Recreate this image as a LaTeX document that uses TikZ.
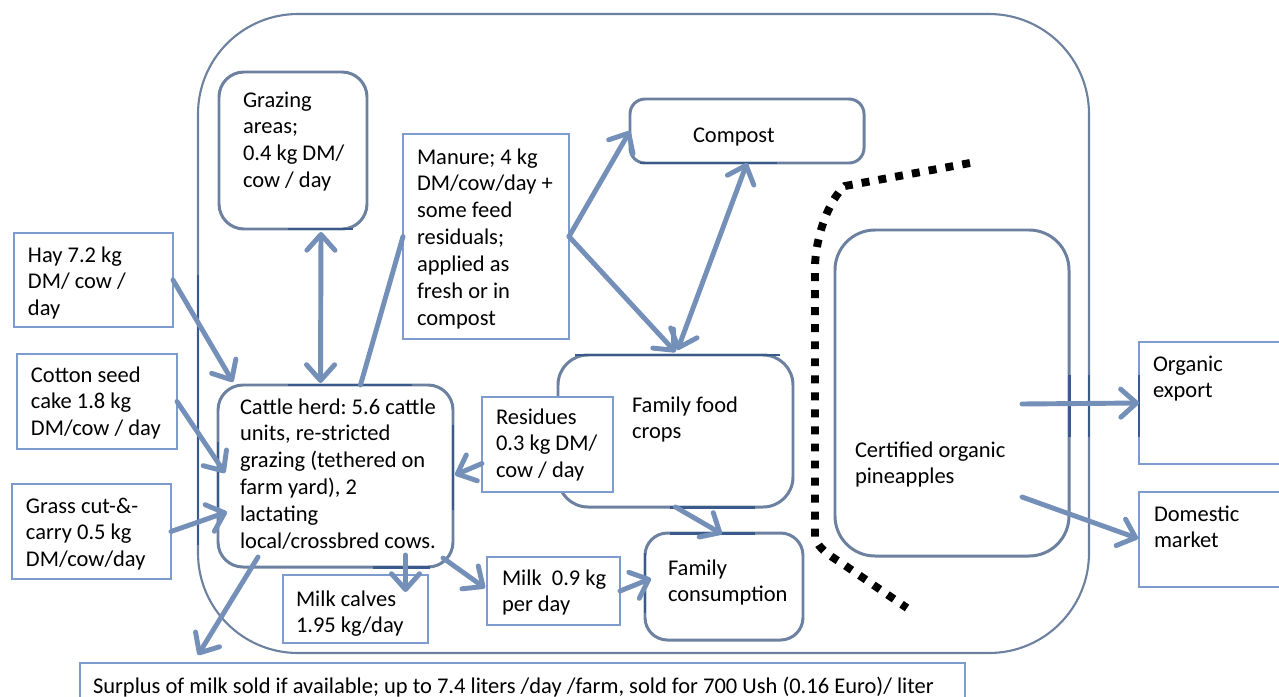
\documentclass[tikz,border=0pt]{standalone}
\usepackage{fontspec}
\setmainfont{Carlito}
\frenchspacing
\usetikzlibrary{arrows.meta,calc,fit}
\definecolor{boxline}{RGB}{108,128,160}
\definecolor{segdark}{RGB}{58,90,140}
\definecolor{arrowblue}{RGB}{116,143,184}
\definecolor{thinline}{RGB}{125,155,205}
\newcommand\tb[1]{\begin{tabular}[t]{@{}l@{}}#1\end{tabular}}
\begin{document}
\begin{tikzpicture}[x=0.02cm,y=-0.02cm,
  every node/.style={inner sep=0pt, outer sep=0pt},
  rbox/.style={draw=boxline, line width=1.7pt, fill=white, rounded corners=#1},
  rbox/.default=0.5cm,
  tbox/.style={draw=thinline, line width=0.8pt, fill=white},
  txt/.style={anchor=base west, font=\fontsize{12.8}{15.3}\selectfont\frenchspacing, text=black},
  tipbarb/.tip={Straight Barb[length=9pt,width=16pt,round]},
  conn/.style={draw=arrowblue, line width=2.8pt, line cap=round},
  arr/.style={conn, -tipbarb},
  darr/.style={conn, tipbarb-tipbarb},
  seg/.style={draw=segdark, line width=1.7pt},
  dotline/.style={draw=black, line width=4.5pt, dash pattern=on 4.5pt off 5.2pt}
]
\useasboundingbox (0,0) rectangle (1279,697);
\clip (0,0) rectangle (1279,697);

% farm boundary
\node[draw=boxline, line width=1.2pt, rounded corners=2cm, fit={(198,14)(1089,653)}] (farm) {};

% feed inputs
\node[tbox, fit={(14,233)(173,327)}] (hay) {};
\node[tbox, fit={(17,354)(177,449)}] (cotton) {};
\node[tbox, fit={(12,484)(171,579)}] (grass) {};

% units on the farm
\node[rbox, fit={(219,72)(367,229)}] (graz) {};
\node[rbox, fit={(218,385)(453,567)}] (cattle) {};
\node[tbox, fit={(403,134)(569,339)}] (manure) {};
\node[rbox=0.3cm, fit={(630,99)(864,163)}] (compost) {};
\node[rbox=0.6cm, fit={(558,355)(793,507)}] (food) {};
\node[tbox, fit={(482,397)(613,492)}] (res) {};
\node[rbox=0.45cm, fit={(645,533)(803,640)}] (fam) {};
\node[tbox, fit={(487,557)(620,625)}] (milk) {};
\node[tbox, fit={(283,575)(428,643)}] (calves) {};
\node[rbox=0.8cm, fit={(835,230)(1069,556)}] (pine) {};

% outlets
\node[tbox, fit={(80,663)(965,710)}] (surplus) {};
\node[tbox, fit={(1139,342)(1300,464)}] (export) {};
\node[tbox, fit={(1139,492)(1300,587)}] (dom) {};

% darker stretches of the outlines
\draw[seg] (288,229) -- (353,229);
\draw[seg] (288,385) -- (412,385);
\draw[seg] (218,442) -- (218,507);
\draw[seg] (453,425) -- (453,510);
\draw[seg] (373,567) -- (430,567);
\draw[seg] (640,163) -- (777,163);
\draw[seg] (575,355) -- (780,355);
\draw[seg] (670,507) -- (755,507);
\draw[seg] (670,533) -- (755,533);
\draw[seg] (645,553) -- (645,613);
\draw[seg] (1069,375) -- (1069,437);
\draw[seg, line width=1.4pt] (1089,375) -- (1089,437);
\draw[seg, line width=1.4pt] (198,275) -- (198,545);
\draw[seg, line width=1pt] (1139,375) -- (1139,437);

% certification boundary
\draw[dotline] (970,163) -- (845,186) .. controls (828,200) and (815,240) .. (815,268)
  -- (815,538) .. controls (818,548) and (830,556) .. (840,562) -- (907,608);

% texts
\node[txt] (grazt) at (243,107) {\tb{Grazing\\areas;\\0.4 kg DM/\\cow / day}};
\node[txt] (hayt) at (28,262) {\tb{Hay 7.2 kg\\DM/ cow /\\day}};
\node[txt] (cottont) at (31,382) {\tb{Cotton seed\\cake 1.8 kg\\DM/cow / day}};
\node[txt] (grasst) at (26,513) {\tb{Grass cut-\&-\\carry 0.5 kg\\DM/cow/day}};
\node[txt] (cattlet) at (240,414) {\tb{Cattle herd: 5.6 cattle\\units, re-stricted\\grazing (tethered on\\farm yard), 2\\lactating\\local/crossbred cows.}};
\node[txt] (manuret) at (417,164) {\tb{Manure; 4 kg\\DM/cow/day +\\some feed\\residuals;\\applied as\\fresh or in\\compost}};
\node[txt] (compostt) at (693,142) {Compost};
\node[txt] (foodt) at (632,412) {\tb{Family food\\crops}};
\node[txt] (rest) at (496,424) {\tb{Residues\\0.3 kg DM/\\cow / day}};
\node[txt] (milkt) at (502,585) {\tb{Milk\ \ 0.9 kg\\per day}};
\node[txt] (famt) at (668,575) {\tb{Family\\consumption}};
\node[txt] (calvest) at (296,606) {\tb{Milk calves\\1.95 kg/day}};
\node[txt] (surplust) at (93,693) {Surplus of milk sold if available; up to 7.4 liters /day /farm, sold for 700 Ush (0.16 Euro)/ liter};
\node[txt] (pinet) at (855,457) {\tb{Certified organic\\pineapples}};
\node[txt] (exportt) at (1153,371) {\tb{Organic\\export}};
\node[txt] (domt) at (1154,521) {\tb{Domestic\\market}};

% flows
\draw[arr] (hay.east) -- ($(cattle.north west)+(15,-3)$);
\draw[arr] (cotton.east) -- ($(cattle.west)+(7,-3)$);
\draw[arr] (grass.east) -- ($(cattle.west)+(9,36)$);
\draw[darr] ($(graz.south)+(28,3)$) -- ($(cattle.north)+(-15,-2)$);
\draw[conn] ($(cattle.north)+(25,0)$) -- (manure.west);
\draw[arr] (manure.east) -- (compost.west);
\draw[arr] (manure.east) -- ($(food.north)+(0,-3)$);
\draw[darr] (compost.south) -- ($(food.north)+(2,-5)$);
\draw[arr] ($(res.west)+(0,19)$) -- ($(cattle.east)+(2,-1)$);
\draw[arr] (food.south) -- ($(fam.north)+(-2,1)$);
\draw[arr] ($(cattle.south east)+(-10,-9)$) -- ($(milk.west)+(-2,-3)$);
\draw[arr] (milk.east) -- ($(fam.west)+(6,-8)$);
\draw[arr] ($(cattle.south)+(70,-12)$) -- ($(calves.north)+(50,17)$);
\draw[arr] ($(cattle.south west)+(40,-10)$) -- ($(surplus.north west)+(118,-8)$);
\draw[arr] ($(pine.east)+(-47,11)$) -- (export.west);
\draw[arr] ($(pine.east)+(-47,104)$) -- ($(dom.west)+(-1,-1)$);
\end{tikzpicture}
\end{document}
